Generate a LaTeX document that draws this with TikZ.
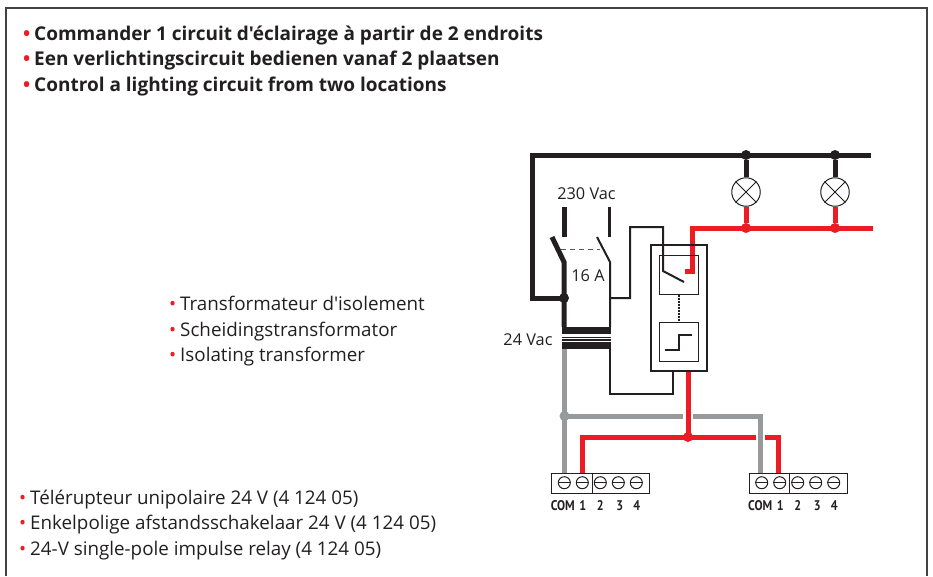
\documentclass[tikz,border=0pt]{standalone}
\usepackage{fontspec}
\defaultfontfeatures[\rmfamily]{}
\setmainfont{Open Sans}
\newfontfamily\termfont{PT Sans}
\definecolor{wireblack}{HTML}{231F20}
\definecolor{wirered}{HTML}{ED1C24}
\definecolor{wiregray}{HTML}{97999B}
\newcommand{\redbullet}{\makebox[11pt][l]{\textcolor{wirered}{\textbullet}}}
\newcommand{\termtext}[1]{\scalebox{0.86}[1]{#1}}
\tikzset{
    heading/.style={anchor=base west, inner sep=0pt, font=\fontsize{19}{22}\selectfont\bfseries, text=wireblack},
    listline/.style={anchor=base west, inner sep=0pt, font=\fontsize{18.8}{22}\selectfont, text=wireblack},
    rating/.style={inner sep=0pt, font=\fontsize{16.3}{20}\selectfont, text=wireblack},
    termlabel/.style={anchor=base, inner sep=0pt, font=\termfont\fontsize{14}{14}\selectfont\bfseries, text=wireblack},
    thickblack/.style={draw=wireblack, line width=5pt},
    thinblack/.style={draw=wireblack, line width=2pt},
    redwire/.style={draw=wirered, line width=5pt},
    graywire/.style={draw=wiregray, line width=5pt},
    junction/.style={circle, fill=#1, inner sep=0pt, minimum size=10pt},
    lamp/.style={circle, draw=wireblack, line width=1pt, fill=white, inner sep=0pt, minimum size=28.5pt},
    screw/.style={circle, draw=wireblack, line width=1pt, inner sep=0pt, minimum size=12pt},
    termblock/.style={draw=wireblack, line width=1pt, inner sep=0pt, minimum width=98pt, minimum height=20pt},
    coilbar/.style={fill=wireblack, inner sep=0pt, minimum width=49pt, minimum height=7pt},
    submodule/.style={draw=wireblack, line width=1pt, inner sep=0pt, minimum width=39pt, minimum height=39pt},
    relaybox/.style={draw=wireblack, line width=2pt, inner sep=0pt, minimum width=56pt, minimum height=126pt}
}
\begin{document}
\begin{tikzpicture}[x=1pt, y=-1pt]
    \useasboundingbox (0, 0) rectangle (933, 576);

    \draw[wireblack!85, line width=1.5pt] (6, 576) -- (6, 8) -- (927, 8) -- (927, 576);

    \node[heading] (titlefr) at (23, 40) {\redbullet Commander 1 circuit d'éclairage à partir de 2 endroits};

    \node[heading] (titlenl) at (23, 65.5) {\redbullet Een verlichtingscircuit bedienen vanaf 2 plaatsen};

    \node[heading] (titleen) at (23, 91) {\redbullet Control a lighting circuit from two locations};

    \node[listline] (transfr) at (169, 310) {\redbullet Transformateur d'isolement};

    \node[listline] (transnl) at (169, 336) {\redbullet Scheidingstransformator};

    \node[listline] (transen) at (169, 361) {\redbullet Isolating transformer};

    \node[listline] (relayfr) at (19, 504) {\redbullet Télérupteur unipolaire 24 V (4 124 05)};

    \node[listline] (relaynl) at (19, 529) {\redbullet Enkelpolige afstandsschakelaar 24 V (4 124 05)};

    \node[listline] (relayen) at (19, 555) {\redbullet 24-V single-pole impulse relay (4 124 05)};

    \node[rating] (mainsv) at (586.5, 194) {230 Vac};

    \node[rating] (fuse) at (588, 276) {16 A};

    \node[rating] (lowv) at (528, 340) {24 Vac};

    \coordinate (topcorner) at (532.5, 155);
    \coordinate (topend) at (871, 155);
    \coordinate (bluntcorner) at (532.5, 298);
    \coordinate (redstart) at (692, 228);
    \coordinate (redend) at (873, 228);

    \node[junction=wireblack] (hot1) at (746, 155) {};
    \node[junction=wireblack] (hot2) at (835, 155) {};
    \node[junction=wirered] (ret1) at (746, 228) {};
    \node[junction=wirered] (ret2) at (835, 228) {};
    \node[lamp] (lamp1) at (746, 192) {};
    \node[lamp] (lamp2) at (835, 192) {};

    \foreach \n in {1, 2} {
        \draw[thickblack] (hot\n) -- (lamp\n);
        \draw[redwire] (ret\n) -- (lamp\n);
        \draw[wireblack, line width=1pt] (lamp\n.45) -- (lamp\n.225);
        \draw[wireblack, line width=1pt] (lamp\n.135) -- (lamp\n.315);
    }

    \node[junction=wireblack] (tap) at (564, 298) {};

    \draw[thickblack] (topend) -- (topcorner) -- (bluntcorner) -- (tap.center);

    \draw[redwire] (redend) -- (redstart) -- (692, 271.5) -- (685, 271.5);

    \node[coilbar] (primary) at (586.5, 330.5) {};
    \node[coilbar] (secondary) at (586.5, 345.5) {};
    \draw[wireblack, line width=1.2pt] (562, 337.3) -- (611, 337.3);
    \draw[wireblack, line width=1.2pt] (562, 340) -- (611, 340);

    \coordinate (polea) at (564, 262);
    \coordinate (poleb) at (610, 262);
    \draw[thickblack] (552, 237) -- (polea) -- (polea |- primary.north);
    \draw[thinblack] (597, 237) -- (poleb) -- (poleb |- primary.north);
    \draw[thickblack] (564, 207) -- (564, 237);
    \draw[line width=2.5pt, wireblack] (609.5, 207) -- (609.5, 237);
    \draw[wireblack!75, line width=1pt, dash pattern=on 5pt off 4pt] (561, 249) -- (600, 249);

    \node[relaybox] (relay) at (679, 308) {};
    \node[submodule] (contact) at (678.5, 274.5) {};
    \node[submodule] (stepcoil) at (678.5, 341.5) {};
    \draw[thinblack, densely dotted] (contact) -- (stepcoil);

    \coordinate (relayfeed) at (673, 394);
    \draw[thinblack] (610, 298) -- (630, 298) -- (630, 227) -- (663, 227) -- (663, 271) -- (684, 282);
    \draw[thinblack] (665, 350) -- (679, 350) -- (679, 335) -- (692, 335);
    \draw[thinblack] (610, 349) -- (610, 394) -- (relayfeed) -- (relayfeed |- relay.south);

    \node[termblock, anchor=north west] (block1) at (551.3, 472.5) {};
    \node[termblock, anchor=north west] (block2) at (748.7, 472.5) {};

    \foreach \b/\x in {1/564.3, 2/761.7} {
        \foreach \i/\d in {0/0, 1/18, 2/36, 3/54, 4/72} {
            \node[screw] (s\b\i) at ({\x+\d}, 482.7) {};
            \draw[wireblack, line width=1pt] (s\b\i.west) -- (s\b\i.east);
        }
        \draw[wireblack, line width=1pt] ({\x+28}, 472.5) -- ({\x+28}, 492.5);
        \node[termlabel] (com\b) at ({\x-1.5}, 510) {\termtext{COM}};
        \node[termlabel] (one\b) at ({\x+18.5}, 510) {\termtext{1}};
        \node[termlabel] (two\b) at ({\x+36}, 510) {\termtext{2}};
        \node[termlabel] (three\b) at ({\x+55.5}, 510) {\termtext{3}};
        \node[termlabel] (four\b) at ({\x+72.5}, 510) {\termtext{4}};
    }

    \node[junction=wiregray] (graytap) at (564.5, 416) {};
    \coordinate (graycorner) at (760.7, 416);

    \draw[graywire] (secondary.south -| graytap) -- (graytap.center) -- (graytap |- block1.north);

    \draw[graywire] (graytap.center) -- (683, 416);
    \draw[graywire] (693, 416) -- (graycorner) -- (graycorner |- block2.north);

    \node[junction=wirered] (redtap) at (688, 437) {};
    \coordinate (redleft) at (582, 437);
    \coordinate (redright) at (778, 437);

    \draw[redwire] (relay.south -| redtap) -- (redtap.center);
    \draw[redwire] (redtap.center) -- (redleft) -- (redleft |- block1.north);
    \draw[redwire] (redtap.center) -- (756, 437);
    \draw[redwire] (765, 437) -- (redright) -- (redright |- block2.north);
\end{tikzpicture}
\end{document}
